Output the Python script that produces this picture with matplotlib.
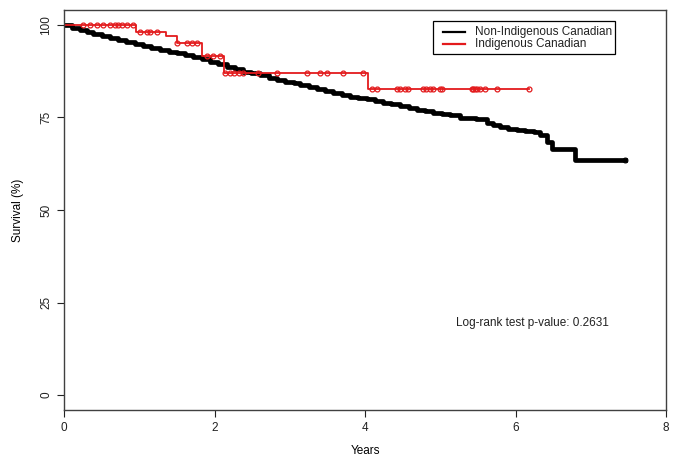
import numpy as np
import matplotlib
matplotlib.use('Agg')
import matplotlib.pyplot as plt
from matplotlib.patches import Rectangle

plt.rcParams['font.family'] = ['Liberation Sans', 'DejaVu Sans']
plt.rcParams['text.color'] = '#222222'

# Non-Indigenous Canadian: step curve (years, survival %)
black_t = [0, 0.1, 0.21, 0.3, 0.39, 0.5, 0.61, 0.72, 0.83, 0.94,
           1.05, 1.16, 1.28, 1.39, 1.50, 1.61, 1.72, 1.83, 1.94, 2.05,
           2.16, 2.27, 2.38, 2.49, 2.60, 2.72, 2.83, 2.94, 3.05, 3.14,
           3.25, 3.36, 3.47, 3.58, 3.69, 3.80, 3.91, 4.02, 4.13, 4.24,
           4.35, 4.47, 4.58, 4.69, 4.80, 4.91, 5.02, 5.13, 5.26, 5.48,
           5.62, 5.70, 5.79, 5.90, 6.02, 6.13, 6.24, 6.33, 6.42, 6.48,
           6.79, 7.45]
black_s = [100, 99.3, 98.6, 98.1, 97.6, 97.0, 96.4, 96.0, 95.5, 94.9,
           94.3, 93.8, 93.2, 92.8, 92.3, 91.9, 91.4, 90.8, 90.1, 89.4,
           88.7, 88.0, 87.4, 87.0, 86.5, 85.8, 85.1, 84.6, 84.2, 83.8,
           83.3, 82.6, 82.1, 81.5, 81.1, 80.6, 80.3, 79.9, 79.4, 79.0,
           78.6, 78.1, 77.5, 77.0, 76.7, 76.3, 76.0, 75.7, 74.8, 74.5,
           73.4, 72.9, 72.3, 72.0, 71.6, 71.4, 71.2, 70.3, 68.3, 66.4,
           63.4, 63.4]

# Indigenous Canadian: event steps and censor marks
red_t = [0.0, 0.96, 1.36, 1.50, 1.83, 2.12, 4.04, 6.18]
red_s = [100, 98.0, 97.0, 95.0, 91.6, 87.1, 82.6, 82.6]
red_cens_t = [0.25, 0.35, 0.44, 0.52, 0.61, 0.68, 0.72, 0.77, 0.84, 0.92,
              1.01, 1.10, 1.14, 1.24, 1.50, 1.63, 1.70, 1.77, 1.90, 1.98, 2.07,
              2.14, 2.20, 2.26, 2.32, 2.38, 2.58, 2.83, 3.23, 3.40, 3.49, 3.71,
              3.97, 4.09, 4.16, 4.42, 4.47, 4.53, 4.57, 4.77, 4.81, 4.86, 4.90,
              5.00, 5.02, 5.42, 5.44, 5.46, 5.49, 5.53, 5.59, 5.75, 6.18]

legend_labels = ['Non-Indigenous Canadian', 'Indigenous Canadian']
legend_colors = ['black', '#e31a1c']
pvalue_text = 'Log-rank test p-value: 0.2631'

fig = plt.figure(figsize=(6.79, 4.65), dpi=100)
ax = fig.add_axes([64 / 679, 1 - 409.8 / 465, 602 / 679, 399.6 / 465])

ax.step(black_t, black_s, where='post', color='black', lw=3.4)
ax.plot(black_t[-1], black_s[-1], 'o', color='black', ms=3.5, mfc='none', mew=0.8)
ax.step(red_t, red_s, where='post', color=legend_colors[1], lw=1.3)
red_cens_s = [red_s[np.searchsorted(red_t, t, side='right') - 1] for t in red_cens_t]
ax.plot(red_cens_t, red_cens_s, 'o', color=legend_colors[1], ms=3.5, mfc='none', mew=0.9)

ax.set_xlim(0, 8)
ax.set_ylim(-4, 104)
ax.set_xticks([0, 2, 4, 6, 8])
ax.set_yticks([0, 25, 50, 75, 100])
ax.tick_params(direction='out', length=5, width=0.8, labelsize=8.5, colors='#222222')
for lab in ax.get_yticklabels():
    lab.set_rotation(90)
    lab.set_va('center')
for sp in ax.spines.values():
    sp.set_color('#404040')
    sp.set_linewidth(1.0)

ax.set_xlabel('Years', fontsize=8.5, labelpad=8)
ax.set_ylabel('Survival (%)', fontsize=8.5, labelpad=12)

ax.text(5.21, 19.5, pvalue_text, fontsize=8.5, ha='left', va='center')

# legend box drawn by hand, R style
def px2ax(px, py):
    return (px - 64) / 602, (409.8 - py) / 399.6

x0, y0 = px2ax(433, 54)
x1, y1 = px2ax(615, 21)
ax.add_patch(Rectangle((x0, y0), x1 - x0, y1 - y0, transform=ax.transAxes,
                       fill=False, edgecolor='black', lw=0.9))
for i, (lab, col) in enumerate(zip(legend_labels, legend_colors)):
    py = 32.5 + 12 * i
    lx0, ly = px2ax(443, py)
    lx1, _ = px2ax(465, py)
    tx, _ = px2ax(475, py)
    ax.plot([lx0, lx1], [ly, ly], color=col, lw=1.6, transform=ax.transAxes)
    ax.text(tx, ly, lab, fontsize=8.5, ha='left', va='center', transform=ax.transAxes)

fig.savefig('out.png', dpi=100)
